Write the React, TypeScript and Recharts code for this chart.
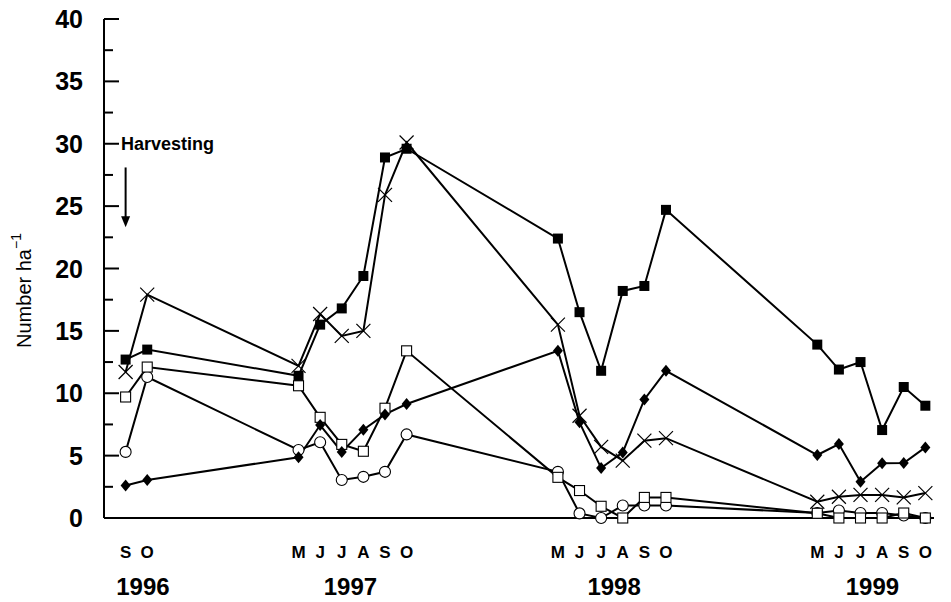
import React from "react";
import {
  LineChart,
  Line,
  XAxis,
  YAxis,
  ReferenceLine,
  ReferenceDot,
} from "recharts";

// months counted from September 1996 (0 = Sep 96)
const months = [0, 1, 8, 9, 10, 11, 12, 13, 20, 21, 22, 23, 24, 25, 32, 33, 34, 35, 36, 37];
const monthLetters = ["S", "O", "M", "J", "J", "A", "S", "O", "M", "J", "J", "A", "S", "O", "M", "J", "J", "A", "S", "O"];
const years = ["1996", "1997", "1998", "1999"];
const yearTicks = [0.8, 10.4, 22.6, 34.55];
const yTicks = [0, 2.5, 5, 7.5, 10, 12.5, 15, 17.5, 20, 22.5, 25, 27.5, 30, 32.5, 35, 37.5, 40];

const filledSquares = [12.7, 13.5, 11.4, 15.5, 16.8, 19.4, 28.9, 29.6, 22.4, 16.5, 11.8, 18.2, 18.6, 24.7, 13.9, 11.9, 12.5, 7.05, 10.5, 9.0];
const crosses = [11.7, 17.9, 12.2, 16.35, 14.6, 15.0, 25.9, 30.1, 15.5, 8.2, 5.7, 4.6, 6.2, 6.4, 1.3, 1.7, 1.85, 1.85, 1.65, 2.0];
const openSquares = [9.7, 12.1, 10.6, 8.07, 5.9, 5.35, 8.8, 13.4, 3.26, 2.2, 0.94, 0.0, 1.65, 1.65, 0.38, 0.0, 0.0, 0.0, 0.4, 0.0];
const openCircles = [5.3, 11.3, 5.45, 6.07, 3.05, 3.3, 3.7, 6.7, 3.7, 0.37, 0.0, 1.0, 1.0, 1.0, 0.4, 0.6, 0.4, 0.4, 0.2, 0.0];
const diamonds = [2.6, 3.05, 4.87, 7.45, 5.3, 7.08, 8.3, 9.14, 13.4, 7.67, 4.0, 5.26, 9.5, 11.8, 5.05, 5.93, 2.9, 4.38, 4.4, 5.66];

const rows = months.map((m, i) => ({
  m,
  fs: filledSquares[i],
  x: crosses[i],
  os: openSquares[i],
  oc: openCircles[i],
  fd: diamonds[i],
}));

const FONT = '"Liberation Sans", Arial, Helvetica, sans-serif';

const FilledSquare = (p: any) => (
  <rect key={p.index} x={p.cx - 5} y={p.cy - 5} width={10} height={10} fill="#000" />
);
const Cross = (p: any) => (
  <g key={p.index} stroke="#000" strokeWidth={1.2}>
    <line x1={p.cx - 7} y1={p.cy - 7} x2={p.cx + 7} y2={p.cy + 7} />
    <line x1={p.cx - 7} y1={p.cy + 7} x2={p.cx + 7} y2={p.cy - 7} />
  </g>
);
const OpenSquare = (p: any) => (
  <rect key={p.index} x={p.cx - 5} y={p.cy - 5} width={10} height={10} fill="#fff" stroke="#000" strokeWidth={1.1} />
);
const OpenCircle = (p: any) => (
  <circle key={p.index} cx={p.cx} cy={p.cy} r={5.5} fill="#fff" stroke="#000" strokeWidth={1.1} />
);
const Diamond = (p: any) => (
  <polygon
    key={p.index}
    points={`${p.cx},${p.cy - 6} ${p.cx + 5},${p.cy} ${p.cx},${p.cy + 6} ${p.cx - 5},${p.cy}`}
    fill="#000"
  />
);

function YTick(props: any) {
  const { x, y, payload } = props;
  const major = payload.value % 5 === 0;
  return (
    <g>
      <line x1={x} y1={y} x2={x + (major ? 15 : 9)} y2={y} stroke="#000" strokeWidth={2} />
      {major && (
        <text x={x - 21} y={y} dy={9} textAnchor="end" fontSize={25} fontWeight="bold" fontFamily={FONT} fill="#000">
          {payload.value}
        </text>
      )}
    </g>
  );
}

function MonthTick(props: any) {
  const { x, y, payload } = props;
  const i = months.indexOf(payload.value);
  return (
    <text x={x} y={y} dy={40} textAnchor="middle" fontSize={17} fontWeight="bold" fontFamily={FONT} fill="#000">
      {monthLetters[i]}
    </text>
  );
}

function YearTick(props: any) {
  const { x, y, payload } = props;
  const i = yearTicks.indexOf(payload.value);
  return (
    <text x={x} y={y} dy={27} textAnchor="middle" fontSize={24} fontWeight="bold" fontFamily={FONT} fill="#000">
      {years[i]}
    </text>
  );
}

function YTitle(props: any) {
  const vb = props.viewBox;
  const cx = 24;
  const cy = vb.y + vb.height / 2 + 22;
  return (
    <text
      x={cx}
      y={cy}
      transform={`rotate(-90 ${cx} ${cy})`}
      textAnchor="middle"
      dominantBaseline="central"
      fontSize={20}
      fontFamily={FONT}
      fill="#000"
    >
      Number ha
      <tspan dy={-8} fontSize={14}>−1</tspan>
    </text>
  );
}

function Arrow(props: any) {
  const { x1, y1, x2, y2 } = props;
  return (
    <g>
      <line x1={x1} y1={y1} x2={x2} y2={y2 - 8} stroke="#000" strokeWidth={2} />
      <polygon points={`${x2 - 4.5},${y2 - 11} ${x2 + 4.5},${y2 - 11} ${x2},${y2}`} fill="#000" />
    </g>
  );
}

function HarvestLabel(props: any) {
  return (
    <text x={props.cx + 17} y={props.cy} dy={6} fontSize={18} fontWeight="bold" fontFamily={FONT} fill="#000">
      Harvesting
    </text>
  );
}

export default function App() {
  return (
    <div style={{ position: "absolute", left: 0, top: 0, background: "#fff" }}>
      <LineChart width={951} height={602} data={rows} margin={{ top: 19, right: 17, left: 0, bottom: 0 }}>
        <XAxis
          dataKey="m"
          type="number"
          domain={[-1, 37.4]}
          ticks={months}
          interval={0}
          tick={<MonthTick />}
          tickLine={false}
          tickSize={0}
          tickMargin={0}
          height={50}
          axisLine={{ stroke: "#000", strokeWidth: 2 }}
        />
        <XAxis
          xAxisId="yr"
          dataKey="m"
          type="number"
          domain={[-1, 37.4]}
          ticks={yearTicks}
          interval={0}
          tick={<YearTick />}
          tickLine={false}
          tickSize={0}
          tickMargin={0}
          height={34}
          axisLine={false}
        />
        <YAxis
          type="number"
          domain={[0, 40]}
          ticks={yTicks}
          interval={0}
          width={104}
          tick={<YTick />}
          tickLine={false}
          tickSize={0}
          tickMargin={0}
          axisLine={{ stroke: "#000", strokeWidth: 2 }}
          label={<YTitle />}
        />
        <ReferenceLine
          segment={[{ x: 0, y: 28.1 }, { x: 0, y: 23.3 }]}
          shape={<Arrow />}
          ifOverflow="visible"
        />
        <ReferenceDot x={-1} y={30} shape={<HarvestLabel />} ifOverflow="visible" />
        <Line dataKey="oc" stroke="#000" strokeWidth={2} dot={OpenCircle} isAnimationActive={false} />
        <Line dataKey="os" stroke="#000" strokeWidth={2} dot={OpenSquare} isAnimationActive={false} />
        <Line dataKey="fd" stroke="#000" strokeWidth={2} dot={Diamond} isAnimationActive={false} />
        <Line dataKey="x" stroke="#000" strokeWidth={2} dot={Cross} isAnimationActive={false} />
        <Line dataKey="fs" stroke="#000" strokeWidth={2} dot={FilledSquare} isAnimationActive={false} />
      </LineChart>
    </div>
  );
}
